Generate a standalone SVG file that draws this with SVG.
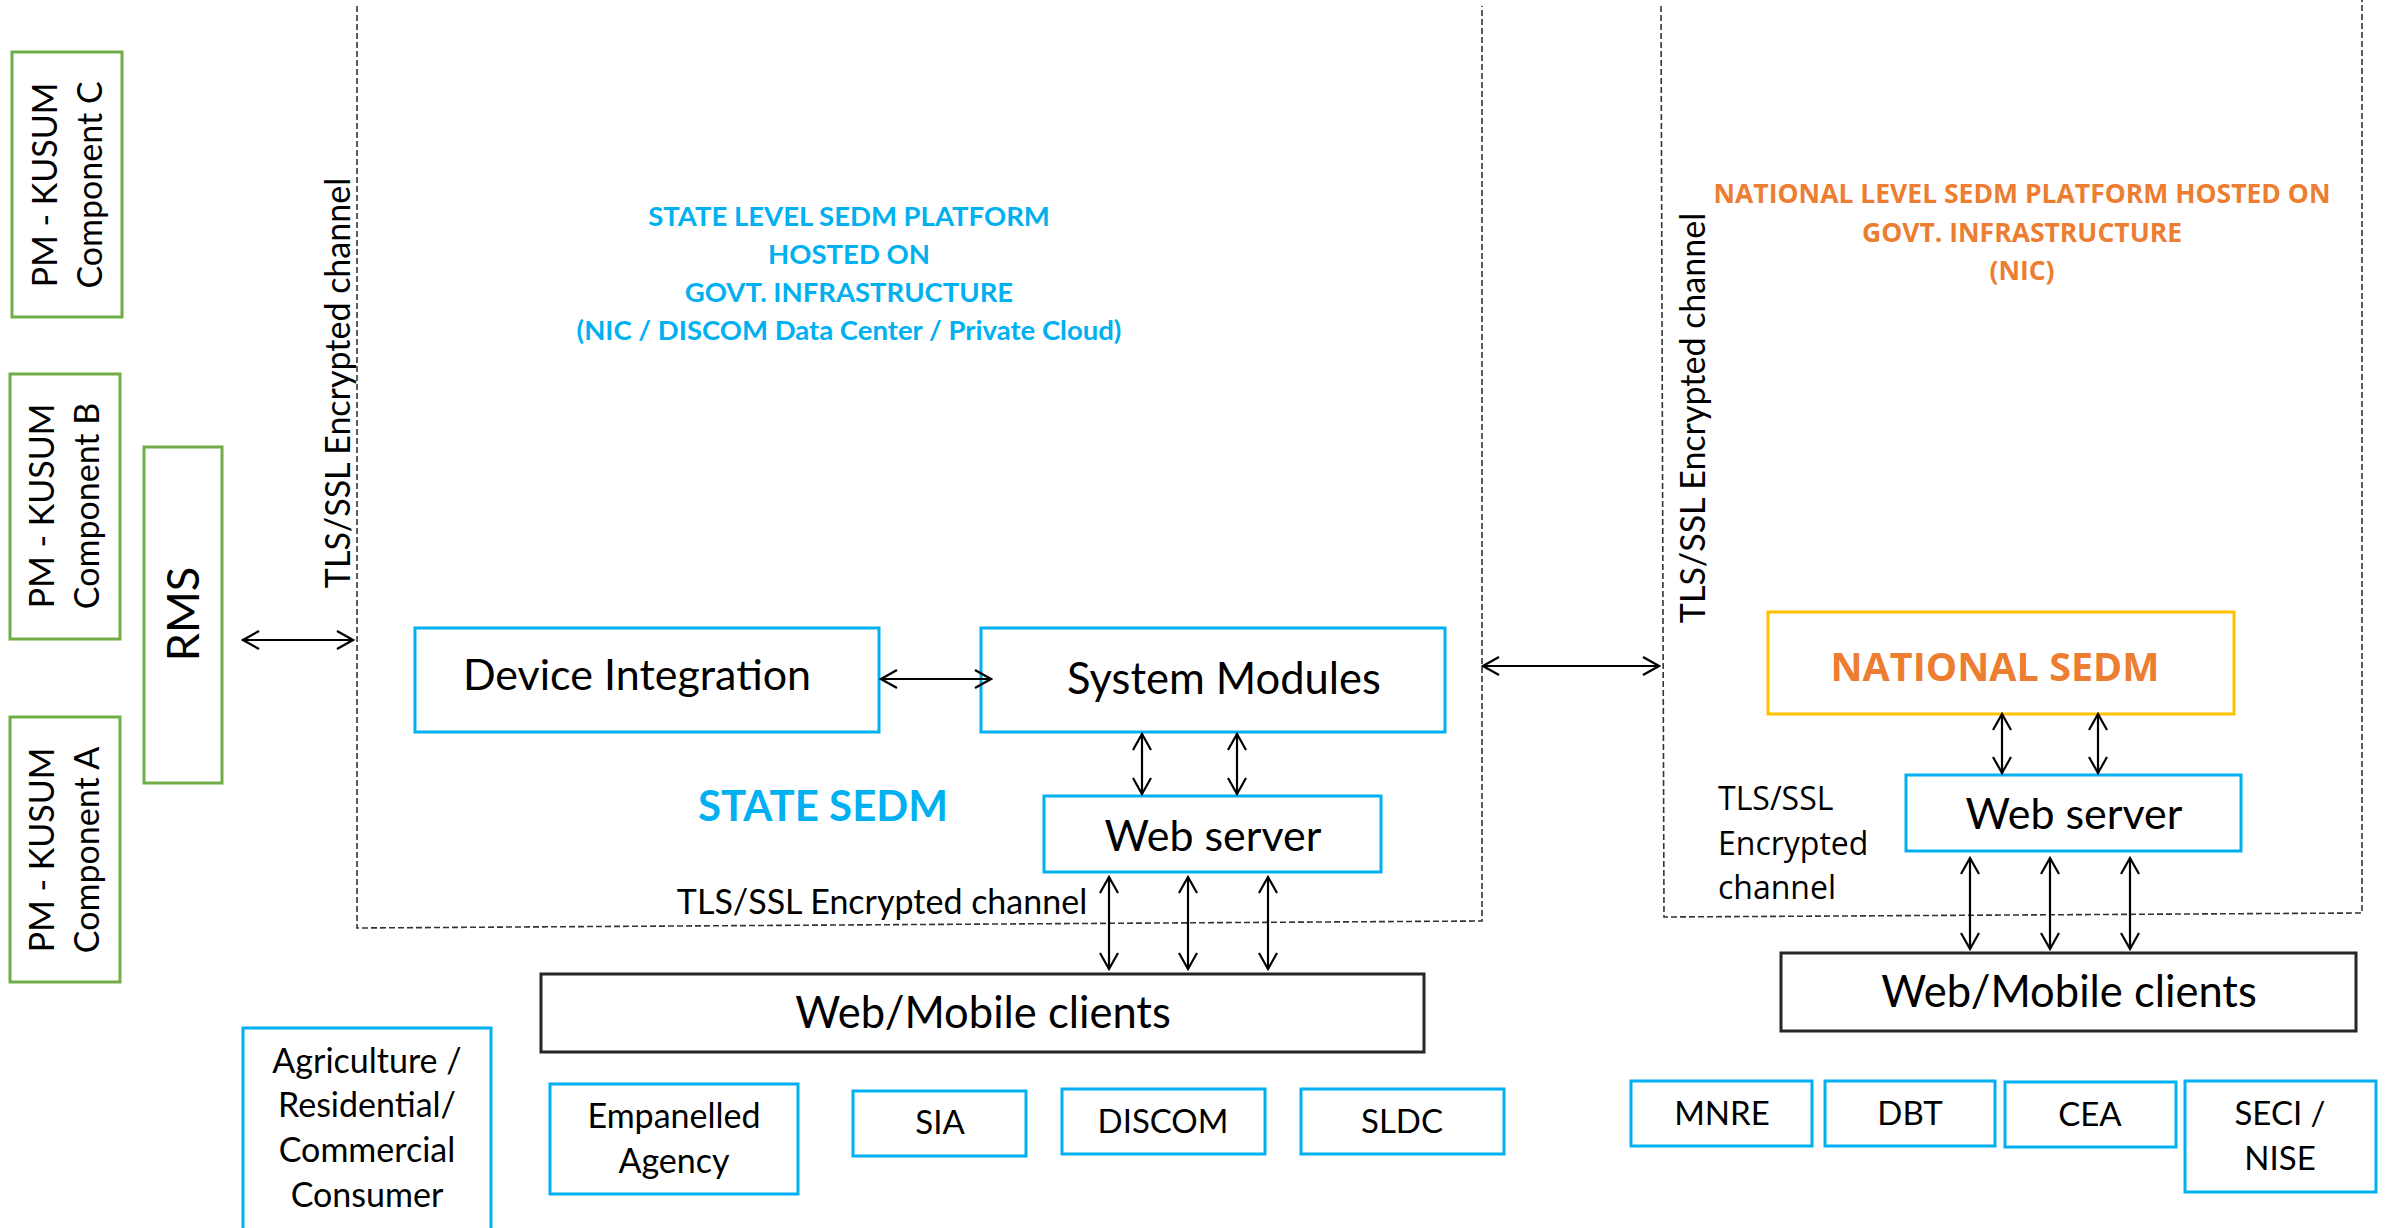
<svg xmlns="http://www.w3.org/2000/svg" width="2385" height="1228" viewBox="0 0 2385 1228">
<style>
.bg{fill:#fff}
.gbox{fill:#fff;stroke:#70AD47;stroke-width:3}
.bbox{fill:#fff;stroke:#00B0F0;stroke-width:3}
.kbox{fill:#fff;stroke:#262626;stroke-width:3}
.ybox{fill:#fff;stroke:#FFC000;stroke-width:3}
.dash{fill:none;stroke:#333;stroke-width:1.6;stroke-dasharray:6 3}
.t{font-family:Lato,"Liberation Sans",sans-serif;fill:#000}
.o{font-family:"Open Sans","DejaVu Sans",sans-serif}
.blue{fill:#00B0F0;font-weight:bold}
.orange{fill:#ED7D31;font-weight:bold}
.arr{fill:none;stroke:#000;stroke-width:2.2;marker-start:url(#ah);marker-end:url(#ah)}
</style>
<defs>
<marker id="ah" viewBox="0 0 20 20" refX="18" refY="10" markerWidth="20" markerHeight="20" markerUnits="userSpaceOnUse" orient="auto-start-reverse">
<path d="M2,1 L18,10 L2,19" fill="none" stroke="#000" stroke-width="2.2"/>
</marker>
</defs>
<rect class="bg" x="0" y="0" width="2385" height="1228"/>

<g id="state-platform">
<path class="dash" d="M357,6 L357,928 L1482,921 L1482,6"/>
<text class="t blue" font-size="27.5" text-anchor="middle"><tspan x="849" y="226">STATE LEVEL SEDM PLATFORM</tspan><tspan x="849" y="264">HOSTED ON</tspan><tspan x="849" y="302">GOVT. INFRASTRUCTURE</tspan><tspan x="849" y="340">(NIC / DISCOM Data Center / Private Cloud)</tspan></text>
<text class="t blue" font-size="42" x="823" y="821" text-anchor="middle">STATE SEDM</text>
<text class="t" font-size="34" x="350" y="383" text-anchor="middle" transform="rotate(-90 350 383)">TLS/SSL Encrypted channel</text>
<text class="t" font-size="34" x="882" y="914" text-anchor="middle">TLS/SSL Encrypted channel</text>
</g>

<g id="national-platform">
<path class="dash" d="M1661,6 L1664,917 L2362,913 L2362,0"/>
<text class="o orange" font-size="26.5" text-anchor="middle"><tspan x="2022" y="203">NATIONAL LEVEL SEDM PLATFORM HOSTED ON</tspan><tspan x="2022" y="242">GOVT. INFRASTRUCTURE</tspan><tspan x="2022" y="280">(NIC)</tspan></text>
<text class="t" font-size="34" x="1705" y="418" text-anchor="middle" transform="rotate(-90 1705 418)">TLS/SSL Encrypted channel</text>
<text class="o" font-size="32" fill="#000"><tspan x="1718" y="810">TLS/SSL</tspan><tspan x="1718" y="855">Encrypted</tspan><tspan x="1718" y="899">channel</tspan></text>
</g>

<g id="pm-c"><rect class="gbox" x="12" y="52" width="110" height="265"/><text class="t" font-size="34" text-anchor="middle" transform="rotate(-90 0 0)"><tspan x="-185" y="57">PM - KUSUM</tspan><tspan x="-185" y="102">Component C</tspan></text></g>
<g id="pm-b"><rect class="gbox" x="10" y="374" width="110" height="265"/><text class="t" font-size="34" text-anchor="middle" transform="rotate(-90 0 0)"><tspan x="-506" y="54">PM - KUSUM</tspan><tspan x="-506" y="99">Component B</tspan></text></g>
<g id="pm-a"><rect class="gbox" x="10" y="717" width="110" height="265"/><text class="t" font-size="34" text-anchor="middle" transform="rotate(-90 0 0)"><tspan x="-850" y="54">PM - KUSUM</tspan><tspan x="-850" y="99">Component A</tspan></text></g>
<g id="rms"><rect class="gbox" x="144" y="447" width="78" height="336"/><text class="t" font-size="45" x="199" y="614" text-anchor="middle" transform="rotate(-90 199 614)">RMS</text></g>

<g id="device-integration"><rect class="bbox" x="415" y="628" width="464" height="104"/><text class="t" font-size="43" x="637" y="690" text-anchor="middle">Device Integration</text></g>
<g id="system-modules"><rect class="bbox" x="981" y="628" width="464" height="104"/><text class="t" font-size="43.5" x="1224" y="694" text-anchor="middle">System Modules</text></g>
<g id="state-web-server"><rect class="bbox" x="1044" y="796" width="337" height="76"/><text class="t" font-size="43" x="1213" y="851" text-anchor="middle">Web server</text></g>
<g id="state-clients"><rect class="kbox" x="541" y="974" width="883" height="78"/><text class="t" font-size="43.5" x="983" y="1028" text-anchor="middle">Web/Mobile clients</text></g>

<g id="consumer"><rect class="bbox" x="243" y="1028" width="248" height="215"/><text class="t" font-size="34" text-anchor="middle"><tspan x="367" y="1073">Agriculture /</tspan><tspan x="367" y="1117">Residential/</tspan><tspan x="367" y="1162">Commercial</tspan><tspan x="367" y="1207">Consumer</tspan></text></g>
<g id="empanelled"><rect class="bbox" x="550" y="1084" width="248" height="110"/><text class="t" font-size="34" text-anchor="middle"><tspan x="674" y="1128">Empanelled</tspan><tspan x="674" y="1173">Agency</tspan></text></g>
<g id="sia"><rect class="bbox" x="853" y="1091" width="173" height="65"/><text class="t" font-size="33" x="940" y="1134" text-anchor="middle">SIA</text></g>
<g id="discom"><rect class="bbox" x="1062" y="1089" width="203" height="65"/><text class="t" font-size="33" x="1163" y="1133" text-anchor="middle">DISCOM</text></g>
<g id="sldc"><rect class="bbox" x="1301" y="1089" width="203" height="65"/><text class="t" font-size="33" x="1402" y="1133" text-anchor="middle">SLDC</text></g>

<g id="national-sedm"><rect class="ybox" x="1768" y="612" width="466" height="102"/><text class="o orange" font-size="39.5" x="1995" y="681" text-anchor="middle">NATIONAL SEDM</text></g>
<g id="national-web-server"><rect class="bbox" x="1906" y="775" width="335" height="76"/><text class="t" font-size="43" x="2074" y="829" text-anchor="middle">Web server</text></g>
<g id="national-clients"><rect class="kbox" x="1781" y="953" width="575" height="78"/><text class="t" font-size="43.5" x="2069" y="1007" text-anchor="middle">Web/Mobile clients</text></g>
<g id="mnre"><rect class="bbox" x="1631" y="1081" width="181" height="65"/><text class="t" font-size="33" x="1722" y="1125" text-anchor="middle">MNRE</text></g>
<g id="dbt"><rect class="bbox" x="1825" y="1081" width="170" height="65"/><text class="t" font-size="33" x="1910" y="1125" text-anchor="middle">DBT</text></g>
<g id="cea"><rect class="bbox" x="2005" y="1082" width="171" height="65"/><text class="t" font-size="33" x="2090" y="1126" text-anchor="middle">CEA</text></g>
<g id="seci"><rect class="bbox" x="2185" y="1081" width="191" height="111"/><text class="t" font-size="33" text-anchor="middle"><tspan x="2280" y="1125">SECI /</tspan><tspan x="2280" y="1170">NISE</tspan></text></g>

<g id="connectors">
<line class="arr" x1="243" y1="640" x2="353" y2="640"/>
<line class="arr" x1="881" y1="679" x2="991" y2="679"/>
<line class="arr" x1="1483" y1="666" x2="1659" y2="666"/>
<line class="arr" x1="1142" y1="734" x2="1142" y2="794"/>
<line class="arr" x1="1237" y1="734" x2="1237" y2="794"/>
<line class="arr" x1="1109" y1="877" x2="1109" y2="969"/>
<line class="arr" x1="1188" y1="877" x2="1188" y2="969"/>
<line class="arr" x1="1268" y1="877" x2="1268" y2="969"/>
<line class="arr" x1="2002" y1="714" x2="2002" y2="773"/>
<line class="arr" x1="2098" y1="714" x2="2098" y2="773"/>
<line class="arr" x1="1970" y1="858" x2="1970" y2="949"/>
<line class="arr" x1="2050" y1="858" x2="2050" y2="949"/>
<line class="arr" x1="2130" y1="858" x2="2130" y2="949"/>
</g>
</svg>
